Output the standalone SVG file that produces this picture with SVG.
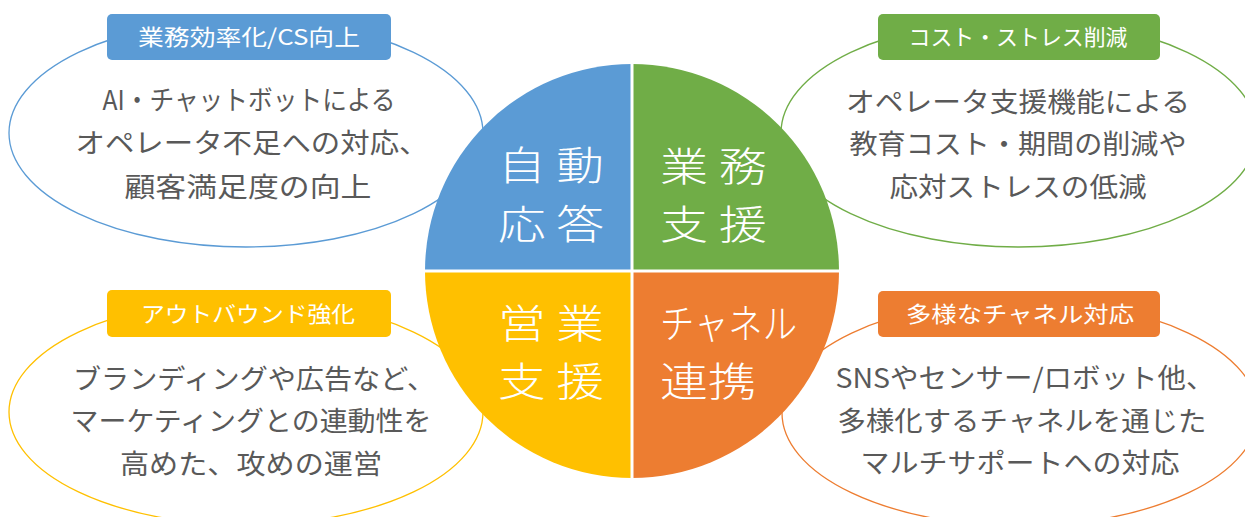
<svg xmlns="http://www.w3.org/2000/svg" width="1245" height="517" viewBox="0 0 1245 517">
<style>
text{font-family:"Noto Sans CJK JP","Noto Sans",sans-serif;}
.body{font-size:27px;fill:#595959;text-anchor:middle;}
.lbl{font-size:22px;fill:#ffffff;text-anchor:middle;}
.big{font-size:40px;fill:#ffffff;font-weight:300;}
.ell{fill:#ffffff;stroke-width:1.3;}
</style>
<rect width="1245" height="517" fill="#ffffff"/>
<g id="connectors"></g>
<g id="bubble-tl">
<ellipse class="ell" cx="246" cy="133" rx="237" ry="114" stroke="#5B9BD5"/>
</g>
<g id="bubble-tr">
<ellipse class="ell" cx="1019" cy="133" rx="238" ry="114" stroke="#70AD47"/>
</g>
<g id="bubble-bl">
<ellipse class="ell" cx="246" cy="412" rx="237" ry="113" stroke="#FFC000"/>
</g>
<g id="bubble-br">
<ellipse class="ell" cx="1020" cy="413" rx="238" ry="113" stroke="#ED7D31"/>
</g>
<g id="circle">
<path d="M632,271 L632,64 A207,207 0 0 0 425,271 Z" fill="#5B9BD5"/>
<path d="M632,271 L632,64 A207,207 0 0 1 839,271 Z" fill="#70AD47"/>
<path d="M632,271 L425,271 A207,207 0 0 0 632,478 Z" fill="#FFC000"/>
<path d="M632,271 L839,271 A207,207 0 0 1 632,478 Z" fill="#ED7D31"/>
<line x1="632" y1="60" x2="632" y2="482" stroke="#ffffff" stroke-width="3"/>
<line x1="421" y1="271" x2="843" y2="271" stroke="#ffffff" stroke-width="3"/>
</g>
<g id="quad-tl">
<text class="big"><tspan x="498" y="180" textLength="106" lengthAdjust="spacingAndGlyphs">自 動</tspan><tspan x="498" y="239" textLength="106" lengthAdjust="spacingAndGlyphs">応 答</tspan></text>
</g>
<g id="quad-tr">
<text class="big"><tspan x="660" y="181" textLength="107" lengthAdjust="spacingAndGlyphs">業 務</tspan><tspan x="660" y="239" textLength="107" lengthAdjust="spacingAndGlyphs">支 援</tspan></text>
</g>
<g id="quad-bl">
<text class="big"><tspan x="498" y="338" textLength="106" lengthAdjust="spacingAndGlyphs">営 業</tspan><tspan x="498" y="396" textLength="106" lengthAdjust="spacingAndGlyphs">支 援</tspan></text>
</g>
<g id="quad-br">
<text class="big"><tspan x="660" y="338" textLength="137" lengthAdjust="spacingAndGlyphs">チャネル</tspan><tspan x="660" y="396" textLength="96" lengthAdjust="spacingAndGlyphs">連携</tspan></text>
</g>
<g id="node-tl">
<rect x="107" y="14" width="284" height="46" rx="5" fill="#5B9BD5"/>
<text class="lbl" x="249" y="45" textLength="222" lengthAdjust="spacingAndGlyphs">業務効率化/CS向上</text>
<text class="body" x="249" y="110" textLength="293" lengthAdjust="spacingAndGlyphs">AI・チャットボットによる</text>
<text class="body" x="252" y="153" textLength="353" lengthAdjust="spacingAndGlyphs">オペレータ不足への対応、</text>
<text class="body" x="248" y="197" textLength="247" lengthAdjust="spacingAndGlyphs">顧客満足度の向上</text>
</g>
<g id="node-tr">
<rect x="878" y="14" width="282" height="46" rx="5" fill="#70AD47"/>
<text class="lbl" x="1018" y="45" textLength="219" lengthAdjust="spacingAndGlyphs">コスト・ストレス削減</text>
<text class="body" x="1018" y="112" textLength="344" lengthAdjust="spacingAndGlyphs">オペレータ支援機能による</text>
<text class="body" x="1018" y="154" textLength="337" lengthAdjust="spacingAndGlyphs">教育コスト・期間の削減や</text>
<text class="body" x="1018" y="197" textLength="257" lengthAdjust="spacingAndGlyphs">応対ストレスの低減</text>
</g>
<g id="node-bl">
<rect x="107" y="290" width="284" height="47" rx="5" fill="#FFC000"/>
<text class="lbl" x="248" y="322" textLength="214" lengthAdjust="spacingAndGlyphs">アウトバウンド強化</text>
<text class="body" x="254" y="389" textLength="362" lengthAdjust="spacingAndGlyphs">ブランディングや広告など、</text>
<text class="body" x="251" y="431" textLength="361" lengthAdjust="spacingAndGlyphs">マーケティングとの連動性を</text>
<text class="body" x="251" y="474" textLength="262" lengthAdjust="spacingAndGlyphs">高めた、攻めの運営</text>
</g>
<g id="node-br">
<rect x="878" y="291" width="282" height="46" rx="5" fill="#ED7D31"/>
<text class="lbl" x="1020" y="322" textLength="228" lengthAdjust="spacingAndGlyphs">多様なチャネル対応</text>
<text class="body" x="1025" y="388" textLength="379" lengthAdjust="spacingAndGlyphs">SNSやセンサー/ロボット他、</text>
<text class="body" x="1022" y="431" textLength="369" lengthAdjust="spacingAndGlyphs">多様化するチャネルを通じた</text>
<text class="body" x="1020" y="473" textLength="319" lengthAdjust="spacingAndGlyphs">マルチサポートへの対応</text>
</g>
</svg>
